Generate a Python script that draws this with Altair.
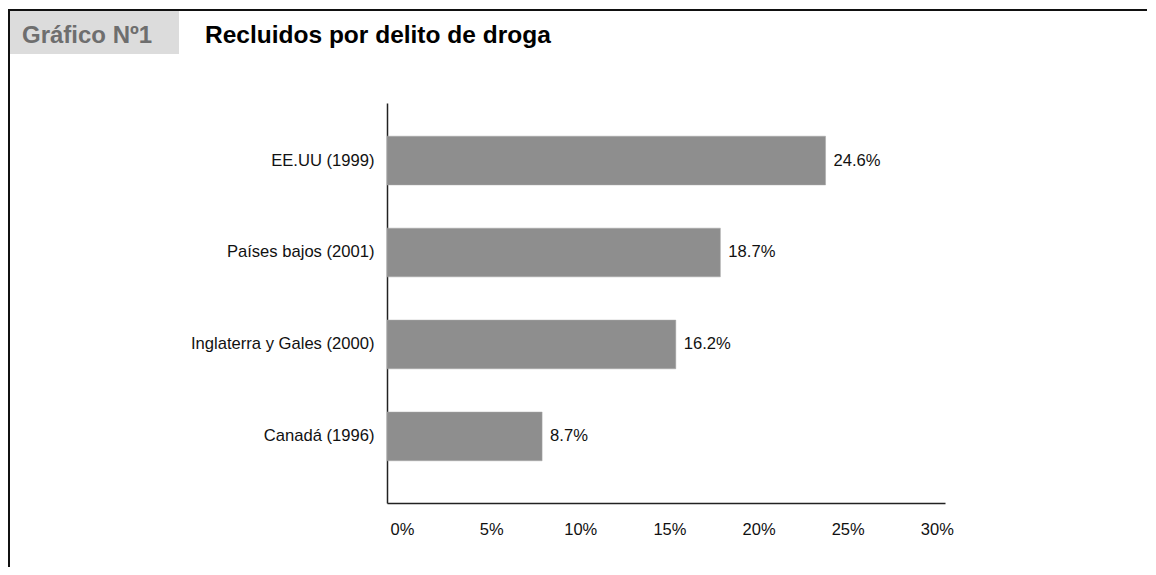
import altair as alt
import pandas as pd

# ---- data ----
paises = ["EE.UU (1999)", "Países bajos (2001)", "Inglaterra y Gales (2000)", "Canadá (1996)"]
valores = [24.6, 18.7, 16.2, 8.7]
ticks = [0, 5, 10, 15, 20, 25, 30]
etiqueta_grafico = "Gráfico Nº1"
titulo = "Recluidos por delito de droga"

df = pd.DataFrame({"pais": paises, "valor": valores})
one = pd.DataFrame({"k": [0]})

FONT = "Liberation Sans, Arial, Helvetica, sans-serif"
COND = "Liberation Sans Narrow, Arial Narrow, Liberation Sans, Arial, sans-serif"

W, H = 558, 400

x_scale = alt.Scale(domain=[0, 31.3], nice=False, zero=True)
y_scale = alt.Scale(domain=paises, paddingInner=0.47, paddingOuter=0.41, align=0.44)

base = alt.Chart(df)

bars = base.mark_bar(color="#8e8e8e", stroke="#a8a8a8", strokeWidth=0.5).encode(
    x=alt.X("valor:Q", scale=x_scale,
            axis=alt.Axis(values=ticks, labelExpr="datum.value + '%'", title=None,
                          grid=False, ticks=False, labelOffset=15, labelPadding=18,
                          labelFlush=False,
                          labelFont=FONT, labelFontSize=16.5, labelColor="#111",
                          domainColor="#222", domainWidth=1.5)),
    y=alt.Y("pais:N", scale=y_scale, sort=paises,
            axis=alt.Axis(title=None, ticks=False, labelPadding=13, labelFont=FONT,
                          labelFontSize=16.6, labelColor="#111", domainColor="#222",
                          domainWidth=1.5, labelLimit=400)),
)

labels = base.transform_calculate(
    txt="format(datum.valor, '.1f') + '%'"
).mark_text(align="left", baseline="middle", dx=8, font=FONT, fontSize=16.6, color="#111").encode(
    x=alt.X("valor:Q", scale=x_scale),
    y=alt.Y("pais:N", scale=y_scale, sort=paises),
    text="txt:N",
)

header_box = alt.Chart(one).mark_rect(color="#dcdcdc").encode(
    x=alt.value(-378), x2=alt.value(-208), y=alt.value(-92), y2=alt.value(-49)
)

frame_top = alt.Chart(one).mark_rule(color="#111", strokeWidth=2).encode(
    x=alt.value(-379), x2=alt.value(760), y=alt.value(-93)
)
frame_left = alt.Chart(one).mark_rule(color="#111", strokeWidth=2).encode(
    x=alt.value(-378), y=alt.value(-93), y2=alt.value(470)
)

t1 = alt.Chart(pd.DataFrame({"t": [etiqueta_grafico]})).mark_text(
    align="left", baseline="alphabetic", font=COND, fontSize=24, fontWeight="bold", color="#6e6e6e"
).encode(x=alt.value(-365), y=alt.value(-60), text="t:N")

t2 = alt.Chart(pd.DataFrame({"t": [titulo]})).mark_text(
    align="left", baseline="alphabetic", font=COND, fontSize=24.5, fontWeight="bold", color="#000"
).encode(x=alt.value(-182), y=alt.value(-60), text="t:N")

chart = alt.layer(header_box, frame_top, frame_left, t1, t2, bars, labels).properties(
    width=W, height=H,
    autosize=alt.AutoSizeParams(type="none"),
    padding={"left": 379, "top": 95, "right": 203, "bottom": 64},
    background="white",
).configure_view(stroke=None)

chart.save("out.html", embed_options={"renderer": "svg", "actions": False})
